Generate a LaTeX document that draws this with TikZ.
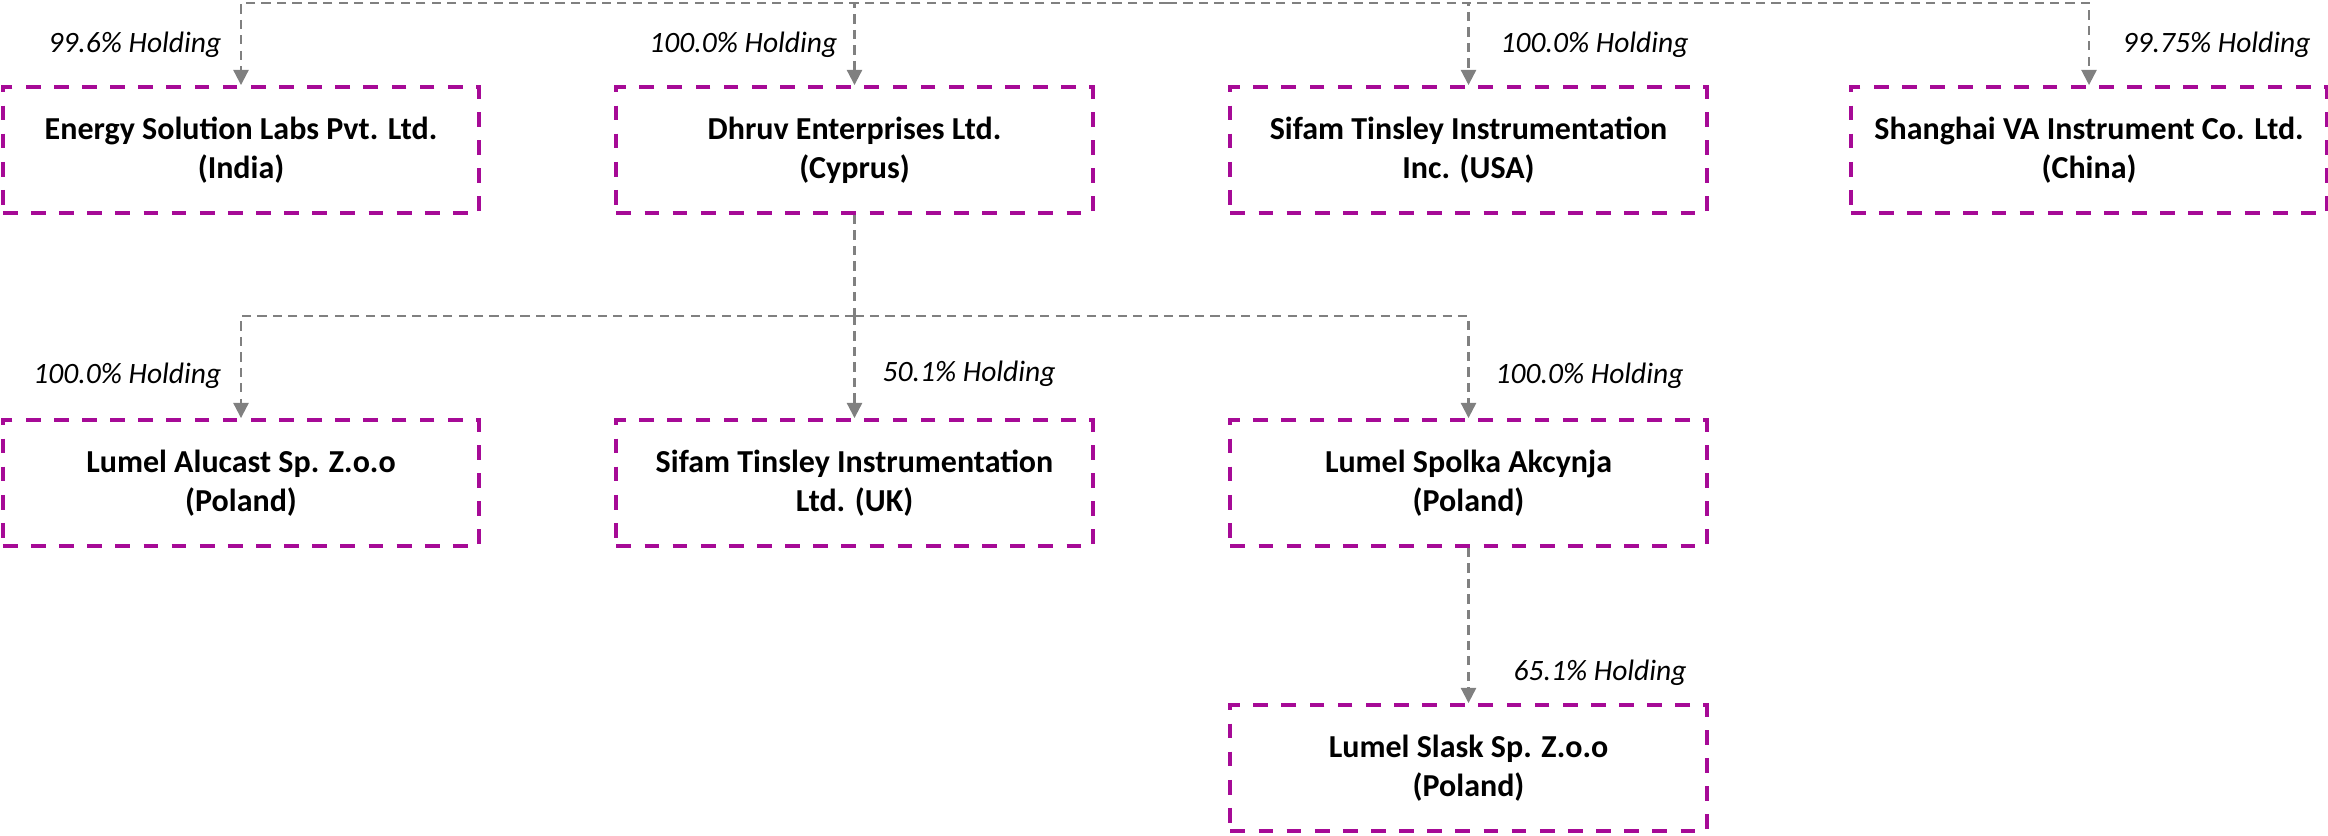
\documentclass[tikz,border=0pt]{standalone}
\usepackage{fontspec}
\setmainfont{Carlito}
\usetikzlibrary{arrows.meta}
\definecolor{boxmag}{RGB}{166,10,150}
\definecolor{conngray}{RGB}{128,128,128}
\begin{document}
\begin{tikzpicture}[x=0.01cm,y=-0.01cm,
  company/.style={draw=boxmag,line width=1.1pt,dash pattern=on 4.2pt off 3.8pt,
    minimum width=4.76cm,minimum height=1.26cm,inner sep=0pt,align=center,
    font=\fontsize{9.1}{11.2}\selectfont\bfseries,text=black},
  connline/.style={draw=conngray,line width=0.6pt,dash pattern=on 2.6pt off 1.8pt},
  conn/.style={connline,-{Triangle[length=4.3pt,width=4.3pt]}},
  hold/.style={font=\fontsize{8.4}{10}\selectfont\itshape,inner sep=0pt}]
\useasboundingbox (0,0) rectangle (2328,835);
% row 1
\node[company] (energy)   at (241,150)    {Energy Solution Labs Pvt. Ltd.\\(India)};
\node[company] (dhruv)    at (854.5,150)  {Dhruv Enterprises Ltd.\\(Cyprus)};
\node[company] (usa)      at (1468.5,150) {Sifam Tinsley Instrumentation\\Inc. (USA)};
\node[company] (shanghai) at (2089,150)   {Shanghai VA Instrument Co. Ltd.\\(China)};
% row 2
\node[company] (alucast)  at (241,483)    {Lumel Alucast Sp. Z.o.o\\(Poland)};
\node[company] (uk)       at (854.5,483)  {Sifam Tinsley Instrumentation\\Ltd. (UK)};
\node[company] (spolka)   at (1468.5,483) {Lumel Spolka Akcynja\\(Poland)};
% row 3
\node[company] (slask)    at (1468.5,768) {Lumel Slask Sp. Z.o.o\\(Poland)};
% connectors
\coordinate (parent) at (1168,-10);
\coordinate (bus1) at (1168,3);
\draw[connline] (parent) -- (bus1);
\draw[conn] (bus1) -| (energy.north);
\draw[conn] (bus1) -| (dhruv.north);
\draw[conn] (bus1) -| (usa.north);
\draw[conn] (bus1) -| (shanghai.north);
\coordinate (bus2) at (854.5,316);
\draw[connline] (dhruv.south) -- (bus2);
\draw[conn] (bus2) -| (alucast.north);
\draw[conn] (bus2) -- (uk.north);
\draw[conn] (bus2) -| (spolka.north);
\draw[conn] (spolka.south) -- (slask.north);
% labels
\node[hold,anchor=east] (l1) at (222,45)  {99.6\% Holding};
\node[hold,anchor=east] (l2) at (838,45)  {100.0\% Holding};
\node[hold,anchor=west] (l3) at (1500,45) {100.0\% Holding};
\node[hold,anchor=west] (l4) at (2122,45) {99.75\% Holding};
\node[hold,anchor=east] (l5) at (222,376) {100.0\% Holding};
\node[hold,anchor=west] (l6) at (882,374) {50.1\% Holding};
\node[hold,anchor=west] (l7) at (1495,376) {100.0\% Holding};
\node[hold,anchor=west] (l8) at (1513,673) {65.1\% Holding};
\end{tikzpicture}
\end{document}
